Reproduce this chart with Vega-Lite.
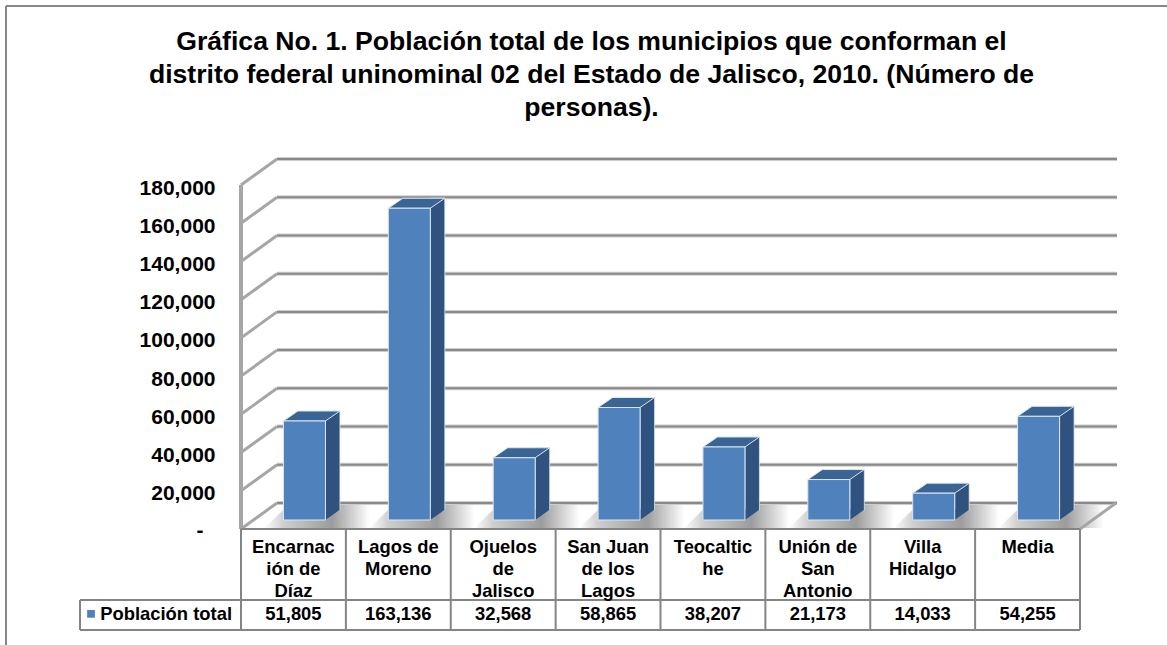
{
"$schema":"https://vega.github.io/schema/vega-lite/v6.json",
"width":1167,"height":645,"padding":0,"autosize":{"type":"none"},"background":"white",
"view":{"stroke":null},
"config":{"font":"Liberation Sans","view":{"stroke":null}},
"title":{"text":["Gráfica No. 1. Población total de los municipios que conforman el","distrito federal uninominal 02 del Estado de Jalisco, 2010. (Número de","personas)."],"anchor":"middle","frame":"group","fontSize":26.6,"fontWeight":"bold","font":"Liberation Sans","color":"black","lineHeight":33,"offset":-122,"dx":8},
"datasets":{
"municipios":[
{"municipio":"Encarnación de Díaz","etiqueta":"Encarnac\nión de\nDíaz","poblacion":51805},
{"municipio":"Lagos de Moreno","etiqueta":"Lagos de\nMoreno","poblacion":163136},
{"municipio":"Ojuelos de Jalisco","etiqueta":"Ojuelos\nde\nJalisco","poblacion":32568},
{"municipio":"San Juan de los Lagos","etiqueta":"San Juan\nde los\nLagos","poblacion":58865},
{"municipio":"Teocaltiche","etiqueta":"Teocaltic\nhe","poblacion":38207},
{"municipio":"Unión de San Antonio","etiqueta":"Unión de\nSan\nAntonio","poblacion":21173},
{"municipio":"Villa Hidalgo","etiqueta":"Villa\nHidalgo","poblacion":14033},
{"municipio":"Media","etiqueta":"Media","poblacion":54255}],
"marcas":[{"valor":0},{"valor":20000},{"valor":40000},{"valor":60000},{"valor":80000},{"valor":100000},{"valor":120000},{"valor":140000},{"valor":160000},{"valor":180000}],
"columnas":[{"col":-1.535,"desde":0.703},{"col":0,"desde":0},{"col":1,"desde":0},{"col":2,"desde":0},{"col":3,"desde":0},{"col":4,"desde":0},{"col":5,"desde":0},{"col":6,"desde":0},{"col":7,"desde":0},{"col":8,"desde":0}],
"filas":[{"fila":0,"ini":0},{"fila":0.703,"ini":-1.535},{"fila":1,"ini":-1.535}]
},
"resolve":{"scale":{"x":"independent","y":"independent"},"axis":{"x":"independent","y":"independent"}},
"layer":[
{"data":{"name":"municipios"},
 "mark":{"type":"point","filled":true,"opacity":1,"size":4,"shape":"M-40,8L70,8L95,-16L-15,-16Z","xOffset":11,"yOffset":-9,"fill":{"x1":0,"y1":0,"x2":1,"y2":0,"gradient":"linear","stops":[{"offset":0,"color":"#ffffff"},{"offset":0.14,"color":"#cfcfcf"},{"offset":0.5,"color":"#9c9c9c"},{"offset":0.78,"color":"#ffffff"},{"offset":1,"color":"#ffffff"}]},"strokeWidth":0},
 "encoding":{"x":{"field":"municipio","type":"nominal","axis":null,"scale":{"domain":["Encarnación de Díaz","Lagos de Moreno","Ojuelos de Jalisco","San Juan de los Lagos","Teocaltiche","Unión de San Antonio","Villa Hidalgo","Media"],"range":[241,1080],"paddingInner":0,"paddingOuter":0}},
 "y":{"datum":0,"type":"quantitative","axis":null,"scale":{"domain":[0,180000],"range":[529,185]}}}},
{"data":{"name":"marcas"},
 "mark":{"type":"rule","color":"#cccccc","strokeWidth":4,"xOffset":36,"x2Offset":37,"yOffset":-26,"y2Offset":-26},
 "encoding":{"x":{"datum":0,"type":"quantitative","axis":null,"scale":{"domain":[0,8],"range":[241,1080]}},"x2":{"datum":8},
 "y":{"field":"valor","type":"quantitative","axis":null,"scale":{"domain":[0,180000],"range":[529,185]}},"y2":{"field":"valor"}}},
{"data":{"name":"marcas"},
 "mark":{"type":"rule","color":"#8a8a8a","strokeWidth":2,"xOffset":36,"x2Offset":37,"yOffset":-26,"y2Offset":-26},
 "encoding":{"x":{"datum":0,"type":"quantitative","axis":null,"scale":{"domain":[0,8],"range":[241,1080]}},"x2":{"datum":8},
 "y":{"field":"valor","type":"quantitative","axis":null,"scale":{"domain":[0,180000],"range":[529,185]}},"y2":{"field":"valor"}}},
{"data":{"name":"marcas"},
 "mark":{"type":"rule","color":"#a6a6a6","strokeWidth":3,"x2Offset":36,"y2Offset":-26},
 "encoding":{"x":{"datum":0,"type":"quantitative","axis":null,"scale":{"domain":[0,8],"range":[241,1080]}},"x2":{"datum":0},
 "y":{"field":"valor","type":"quantitative","axis":null,"scale":{"domain":[0,180000],"range":[529,185]}},"y2":{"field":"valor"}}},
{"data":{"values":[{"valor":0}]},
 "mark":{"type":"rule","color":"#a6a6a6","strokeWidth":3,"x2Offset":36,"xOffset":0,"y2Offset":-26},
 "encoding":{"x":{"datum":8,"type":"quantitative","axis":null,"scale":{"domain":[0,8],"range":[241,1080]}},"x2":{"datum":8},
 "y":{"field":"valor","type":"quantitative","axis":null,"scale":{"domain":[0,180000],"range":[529,185]}},"y2":{"field":"valor"}}},
{"data":{"name":"marcas"},
 "mark":{"type":"rule","color":"#a6a6a6","strokeWidth":3},
 "encoding":{"x":{"datum":0,"type":"quantitative","axis":null,"scale":{"domain":[0,8],"range":[241,1080]}},
 "y":{"datum":0,"type":"quantitative","scale":{"domain":[0,180000],"range":[529,185]},"axis":{"orient":"left","offset":-215,"values":[20000,40000,60000,80000,100000,120000,140000,160000,180000],"labelExpr":"format(datum.value,',')","domain":false,"ticks":false,"grid":false,"title":null,"labelPadding":0,"labelOffset":3,"labelFontSize":21,"labelFontWeight":"bold","labelFont":"Liberation Sans","labelColor":"black","labelOverlap":false,"labelBound":false,"labelFlush":false}},"y2":{"datum":180000}}},
{"data":{"values":[{"etiqueta":"-","col":-0.39,"valor":0}]},
 "mark":{"type":"text","font":"Liberation Sans","fontWeight":"bold","fontSize":21,"color":"black","baseline":"middle","align":"center","yOffset":2},
 "encoding":{"x":{"field":"col","type":"quantitative","axis":null,"scale":{"domain":[0,8],"range":[241,1080]}},
 "y":{"field":"valor","type":"quantitative","axis":null,"scale":{"domain":[0,180000],"range":[529,185]}},"text":{"field":"etiqueta"}}},
{"data":{"name":"columnas"},
 "mark":{"type":"rule","color":"#858585","strokeWidth":2},
 "encoding":{"x":{"field":"col","type":"quantitative","axis":null,"scale":{"domain":[0,8],"range":[241,1080]}},
 "y":{"field":"desde","type":"quantitative","axis":null,"scale":{"domain":[0,1],"range":[529,630]}},"y2":{"datum":1}}},
{"data":{"name":"filas"},
 "mark":{"type":"rule","color":"#858585","strokeWidth":2},
 "encoding":{"x":{"field":"ini","type":"quantitative","axis":null,"scale":{"domain":[0,8],"range":[241,1080]}},"x2":{"datum":8},
 "y":{"field":"fila","type":"quantitative","axis":null,"scale":{"domain":[0,1],"range":[529,630]}},"y2":{"field":"fila"}}},
{"data":{"name":"municipios"},
 "mark":{"type":"text","font":"Liberation Sans","fontWeight":"bold","fontSize":18.4,"color":"black","baseline":"top","align":"center","lineHeight":22,"lineBreak":"\n"},
 "encoding":{"x":{"field":"municipio","type":"nominal","axis":null,"scale":{"domain":["Encarnación de Díaz","Lagos de Moreno","Ojuelos de Jalisco","San Juan de los Lagos","Teocaltiche","Unión de San Antonio","Villa Hidalgo","Media"],"range":[241,1080],"paddingInner":0,"paddingOuter":0}},
 "y":{"datum":0.09,"type":"quantitative","axis":null,"scale":{"domain":[0,1],"range":[529,630]}},"text":{"field":"etiqueta"}}},
{"data":{"name":"municipios"},
 "mark":{"type":"text","font":"Liberation Sans","fontWeight":"bold","fontSize":18.4,"color":"black","baseline":"middle","align":"center"},
 "encoding":{"x":{"field":"municipio","type":"nominal","axis":null,"scale":{"domain":["Encarnación de Díaz","Lagos de Moreno","Ojuelos de Jalisco","San Juan de los Lagos","Teocaltiche","Unión de San Antonio","Villa Hidalgo","Media"],"range":[241,1080],"paddingInner":0,"paddingOuter":0}},
 "y":{"datum":0.84,"type":"quantitative","axis":null,"scale":{"domain":[0,1],"range":[529,630]}},"text":{"field":"poblacion","type":"quantitative","format":","}}},
{"data":{"values":[{"serie":"Población total","col":0}]},
 "mark":{"type":"text","font":"Liberation Sans","fontWeight":"bold","fontSize":18.4,"color":"black","baseline":"middle","align":"right","xOffset":-9},
 "encoding":{"x":{"field":"col","type":"quantitative","axis":null,"scale":{"domain":[0,8],"range":[241,1080]}},
 "y":{"datum":0.84,"type":"quantitative","axis":null,"scale":{"domain":[0,1],"range":[529,630]}},"text":{"field":"serie"}}},
{"data":{"values":[{"serie":"Población total","col":-1.43}]},
 "mark":{"type":"point","shape":"square","filled":true,"opacity":1,"size":60,"fill":"#4f81bd"},
 "encoding":{"x":{"field":"col","type":"quantitative","axis":null,"scale":{"domain":[0,8],"range":[241,1080]}},
 "y":{"datum":0.84,"type":"quantitative","axis":null,"scale":{"domain":[0,1],"range":[529,630]}}}},
{"data":{"name":"municipios"},
 "mark":{"type":"bar","width":14.5,"xOffset":39.25,"yOffset":-19,"y2Offset":-19,"fill":"#30527e","stroke":"#dce6f2","strokeWidth":0.8},
 "encoding":{"x":{"field":"municipio","type":"nominal","axis":null,"scale":{"domain":["Encarnación de Díaz","Lagos de Moreno","Ojuelos de Jalisco","San Juan de los Lagos","Teocaltiche","Unión de San Antonio","Villa Hidalgo","Media"],"range":[241,1080],"paddingInner":0,"paddingOuter":0}},
 "y":{"field":"poblacion","type":"quantitative","axis":null,"scale":{"domain":[0,180000],"range":[529,185]}},"y2":{"datum":0}}},
{"data":{"name":"municipios"},
 "mark":{"type":"point","filled":true,"opacity":1,"size":4,"shape":"M0,0L14,-10L14,-11L0,-11Z","xOffset":32,"yOffset":-9,"fill":"#30527e","strokeWidth":0},
 "encoding":{"x":{"field":"municipio","type":"nominal","axis":null,"scale":{"domain":["Encarnación de Díaz","Lagos de Moreno","Ojuelos de Jalisco","San Juan de los Lagos","Teocaltiche","Unión de San Antonio","Villa Hidalgo","Media"],"range":[241,1080],"paddingInner":0,"paddingOuter":0}},
 "y":{"datum":0,"type":"quantitative","axis":null,"scale":{"domain":[0,180000],"range":[529,185]}}}},
{"data":{"name":"municipios"},
 "mark":{"type":"point","filled":true,"opacity":1,"size":4,"shape":"M-21,0L-6.5,-10L35.5,-10L21,0Z","xOffset":11,"yOffset":-9,"fill":"#3a6493","stroke":"#dce6f2","strokeWidth":1},
 "encoding":{"x":{"field":"municipio","type":"nominal","axis":null,"scale":{"domain":["Encarnación de Díaz","Lagos de Moreno","Ojuelos de Jalisco","San Juan de los Lagos","Teocaltiche","Unión de San Antonio","Villa Hidalgo","Media"],"range":[241,1080],"paddingInner":0,"paddingOuter":0}},
 "y":{"field":"poblacion","type":"quantitative","axis":null,"scale":{"domain":[0,180000],"range":[529,185]}}}},
{"data":{"name":"municipios"},
 "mark":{"type":"bar","width":42,"xOffset":11,"yOffset":-9,"y2Offset":-9,"fill":"#4f81bd","stroke":"#dce6f2","strokeWidth":1},
 "encoding":{"x":{"field":"municipio","type":"nominal","axis":null,"scale":{"domain":["Encarnación de Díaz","Lagos de Moreno","Ojuelos de Jalisco","San Juan de los Lagos","Teocaltiche","Unión de San Antonio","Villa Hidalgo","Media"],"range":[241,1080],"paddingInner":0,"paddingOuter":0}},
 "y":{"field":"poblacion","type":"quantitative","axis":null,"scale":{"domain":[0,180000],"range":[529,185]}},"y2":{"datum":0}}},
{"data":{"values":[{"borde":"superior"}]},
 "mark":{"type":"rule","color":"#868686","strokeWidth":2},
 "encoding":{"x":{"value":6},"x2":{"value":1167},"y":{"value":6}}},
{"data":{"values":[{"borde":"izquierdo"}]},
 "mark":{"type":"rule","color":"#868686","strokeWidth":2},
 "encoding":{"x":{"value":6},"y":{"value":6},"y2":{"value":645}}}
]
}
